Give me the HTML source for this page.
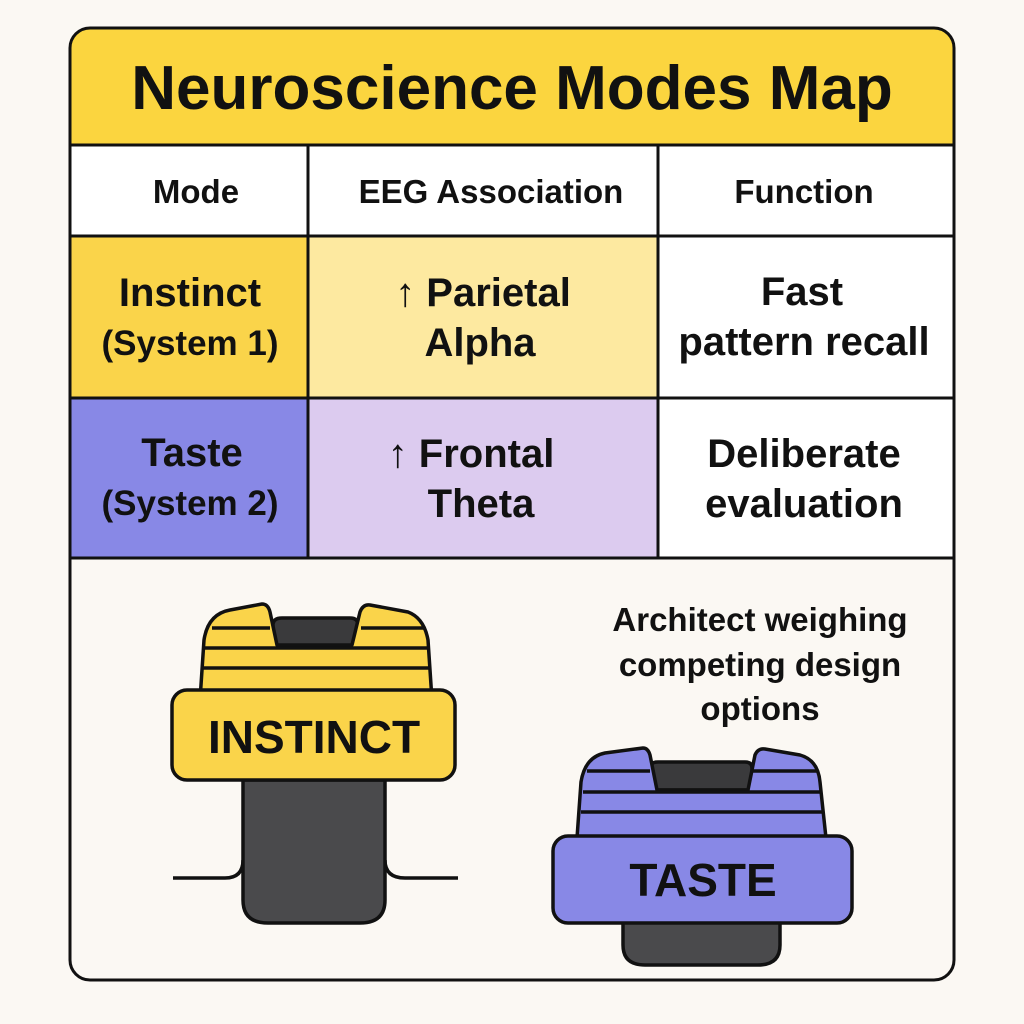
<!DOCTYPE html>
<html><head><style>
body{margin:0;background:#FBF8F3;}
svg{display:block;font-family:"Liberation Sans",sans-serif;}
</style></head><body>
<svg width="1024" height="1024" viewBox="0 0 1024 1024">
<rect width="1024" height="1024" fill="#FBF8F3"/>
<rect x="70" y="28" width="884" height="952" rx="20" fill="#FBF8F3"/>
<path d="M90 28 H934 Q954 28 954 48 V145 H70 V48 Q70 28 90 28Z" fill="#FBD53F"/>
<rect x="70" y="145" width="884" height="91" fill="#fff"/>
<rect x="70" y="236" width="238" height="162" fill="#FAD44A"/>
<rect x="308" y="236" width="350" height="162" fill="#FDE9A0"/>
<rect x="658" y="236" width="296" height="162" fill="#fff"/>
<rect x="70" y="398" width="238" height="160" fill="#8888E6"/>
<rect x="308" y="398" width="350" height="160" fill="#DCCBEF"/>
<rect x="658" y="398" width="296" height="160" fill="#fff"/>
<g stroke="#111" stroke-width="3" fill="none">
<rect x="70" y="28" width="884" height="952" rx="20"/>
<line x1="70" y1="145" x2="954" y2="145"/>
<line x1="70" y1="236" x2="954" y2="236"/>
<line x1="70" y1="398" x2="954" y2="398"/>
<line x1="70" y1="558" x2="954" y2="558"/>
<line x1="308" y1="145" x2="308" y2="558"/>
<line x1="658" y1="145" x2="658" y2="558"/>
</g>
<g fill="#111" text-anchor="middle" font-weight="bold">
<text x="512" y="109" font-size="62">Neuroscience Modes Map</text>
<text x="196" y="203" font-size="33">Mode</text>
<text x="491" y="203" font-size="33">EEG Association</text>
<text x="804" y="203" font-size="33">Function</text>
<text x="190" y="306" font-size="40">Instinct</text>
<text x="190" y="355" font-size="35">(System 1)</text>
<text x="483" y="306" font-size="40">↑ Parietal</text>
<text x="480" y="356" font-size="40">Alpha</text>
<text x="802" y="305" font-size="40">Fast</text>
<text x="804" y="355" font-size="40">pattern recall</text>
<text x="192" y="466" font-size="40">Taste</text>
<text x="190" y="515" font-size="35">(System 2)</text>
<text x="471" y="467" font-size="40">↑ Frontal</text>
<text x="481" y="517" font-size="40">Theta</text>
<text x="804" y="467" font-size="40">Deliberate</text>
<text x="804" y="517" font-size="40">evaluation</text>
<text x="760" y="631" font-size="33">Architect weighing</text>
<text x="760" y="676" font-size="33">competing design</text>
<text x="760" y="720" font-size="33">options</text>
</g>
<!-- Instinct figure -->
<g stroke="#111" stroke-width="3.5" stroke-linejoin="round">
<path d="M173 878 H225 Q243 878 243 860" fill="none"/>
<path d="M458 878 H405 Q385 878 385 860" fill="none"/>
<path d="M243 780 V900 Q243 923 268 923 H360 Q385 923 385 900 V780Z" fill="#4a4a4c"/>
<path d="M273 650 V625 Q273 618 282 618 H350 Q358 618 358 625 V650Z" fill="#3a3a3c"/>
<path d="M200 700 L204 640 Q208 614 230 610 L262 604 Q268 604 270 612 L277 645 H352 L360 612 Q363 604 370 605 L408 612 Q424 618 428 640 L432 700Z" fill="#FAD44A"/>
<path d="M212 628 H270 M361 628 H425 M204 648 H430 M203 668 H431" fill="none"/>
<rect x="172" y="690" width="283" height="90" rx="15" fill="#FAD44A"/>
</g>
<text x="314" y="753" font-size="46" font-weight="bold" text-anchor="middle" fill="#111">INSTINCT</text>
<!-- Taste figure -->
<g stroke="#111" stroke-width="3.5" stroke-linejoin="round">
<path d="M623 900 V945 Q623 965 645 965 H758 Q780 965 780 945 V900Z" fill="#4a4a4c"/>
<path d="M650 790 V768 Q650 762 658 762 H745 Q752 762 752 768 V790Z" fill="#3a3a3c"/>
<path d="M577 838 L581 782 Q585 757 605 753 L643 748 Q648 748 650 755 L657 790 H748 L755 755 Q758 748 765 749 L800 755 Q818 760 820 782 L826 838Z" fill="#8888E6"/>
<path d="M587 771 H650 M752 771 H818 M583 792 H822 M581 812 H823" fill="none"/>
<rect x="553" y="836" width="299" height="87" rx="15" fill="#8888E6"/>
</g>
<text x="703" y="896" font-size="46" font-weight="bold" text-anchor="middle" fill="#111">TASTE</text>
</svg>
</body></html>
